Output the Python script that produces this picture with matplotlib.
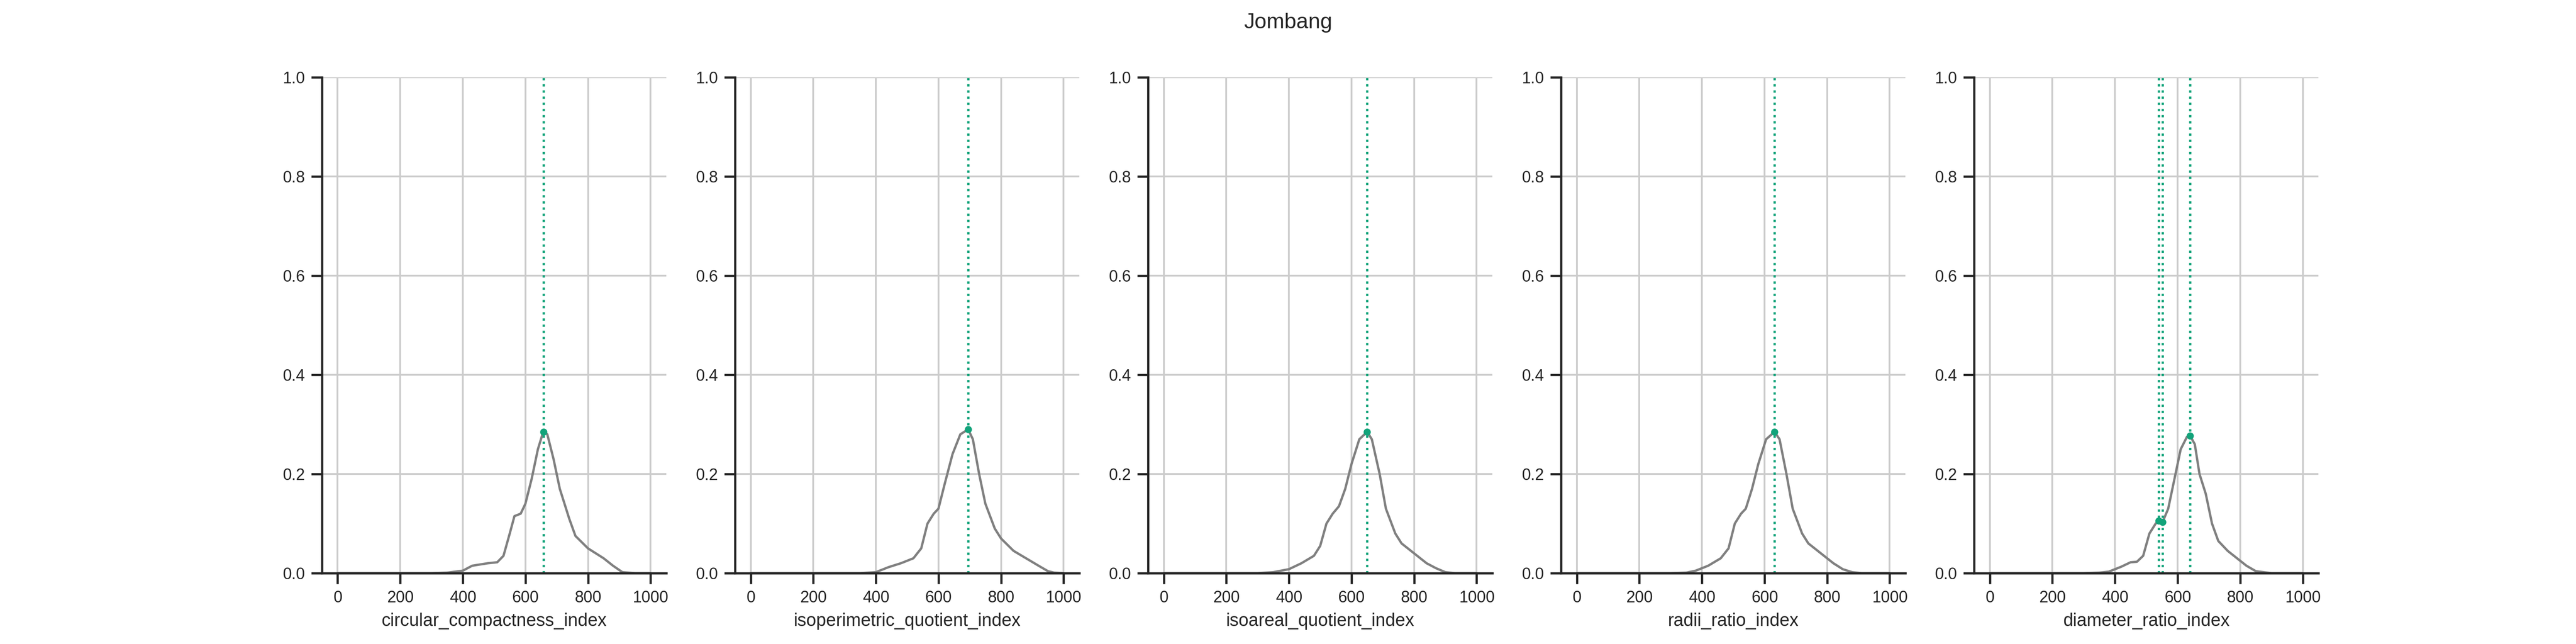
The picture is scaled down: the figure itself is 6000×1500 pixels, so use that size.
import matplotlib
matplotlib.use('Agg')
import matplotlib.pyplot as plt
import seaborn as sns

sns.set_theme(style='ticks', rc={'axes.grid': True})
plt.rcParams['font.family'] = ['Liberation Sans', 'DejaVu Sans']

title = "Jombang"
names = ["circular_compactness_index", "isoperimetric_quotient_index",
         "isoareal_quotient_index", "radii_ratio_index", "diameter_ratio_index"]

# KDE curves
xs = [
    [0, 300, 350, 400, 430, 480, 510, 530, 550, 565, 585, 600, 620, 640, 657, 670, 690, 710, 740, 760, 800, 850, 880, 910, 950, 1000],
    [0, 350, 400, 440, 480, 520, 545, 565, 585, 600, 620, 645, 670, 695, 710, 730, 750, 780, 800, 840, 880, 920, 950, 970, 1000],
    [0, 300, 350, 400, 440, 480, 500, 520, 540, 560, 580, 600, 625, 650, 665, 690, 710, 740, 760, 800, 840, 870, 900, 930, 1000],
    [0, 300, 350, 380, 420, 460, 485, 505, 525, 540, 560, 580, 605, 632, 648, 670, 690, 720, 740, 780, 820, 850, 880, 910, 1000],
    [0, 300, 350, 380, 420, 450, 470, 490, 510, 530, 540, 552, 570, 590, 610, 630, 640, 655, 670, 690, 710, 730, 760, 790, 820, 850, 900, 1000],
]
ys = [
    [0, 0, 0.001, 0.005, 0.015, 0.02, 0.022, 0.035, 0.08, 0.115, 0.12, 0.14, 0.19, 0.25, 0.285, 0.28, 0.23, 0.17, 0.11, 0.075, 0.05, 0.03, 0.015, 0.002, 0, 0],
    [0, 0, 0.002, 0.012, 0.02, 0.03, 0.05, 0.1, 0.12, 0.13, 0.18, 0.24, 0.28, 0.29, 0.27, 0.2, 0.14, 0.09, 0.07, 0.045, 0.03, 0.015, 0.004, 0.001, 0],
    [0, 0, 0.002, 0.008, 0.02, 0.035, 0.055, 0.1, 0.12, 0.135, 0.17, 0.22, 0.27, 0.285, 0.27, 0.2, 0.13, 0.08, 0.06, 0.04, 0.02, 0.01, 0.002, 0, 0],
    [0, 0, 0.001, 0.005, 0.015, 0.03, 0.05, 0.1, 0.12, 0.13, 0.17, 0.22, 0.27, 0.285, 0.27, 0.2, 0.13, 0.08, 0.06, 0.04, 0.02, 0.008, 0.002, 0, 0],
    [0, 0, 0.001, 0.003, 0.013, 0.022, 0.023, 0.035, 0.08, 0.1, 0.106, 0.103, 0.13, 0.19, 0.25, 0.275, 0.277, 0.26, 0.2, 0.16, 0.1, 0.065, 0.045, 0.03, 0.015, 0.004, 0, 0],
]
peaks = [[658], [695], [650], [632], [540, 552, 640]]
peak_y = [[0.285], [0.29], [0.285], [0.285], [0.106, 0.103, 0.277]]

green = '#12a37a'
fig, axes = plt.subplots(1, 5, figsize=(20, 5))
fig.suptitle(title, fontsize=12)
for ax, name, x, y, pk, py in zip(axes, names, xs, ys, peaks, peak_y):
    ax.plot(x, y, color='gray', lw=1.3)
    for p, q in zip(pk, py):
        ax.axvline(p, color=green, ls=':', lw=1.3)
        ax.plot(p, q, 'o', color=green, ms=3)
    ax.set_xlim(-50, 1050)
    ax.set_ylim(0, 1.0)
    ax.set_xticks([0, 200, 400, 600, 800, 1000])
    ax.set_xlabel(name, fontsize=10)
    ax.tick_params(labelsize=9)
    ax.grid(True, color='#cccccc')
    sns.despine(ax=ax)
fig.subplots_adjust(left=0.125, right=0.9, bottom=0.11, top=0.88, wspace=0.2)
fig.savefig('out.png', dpi=300)
